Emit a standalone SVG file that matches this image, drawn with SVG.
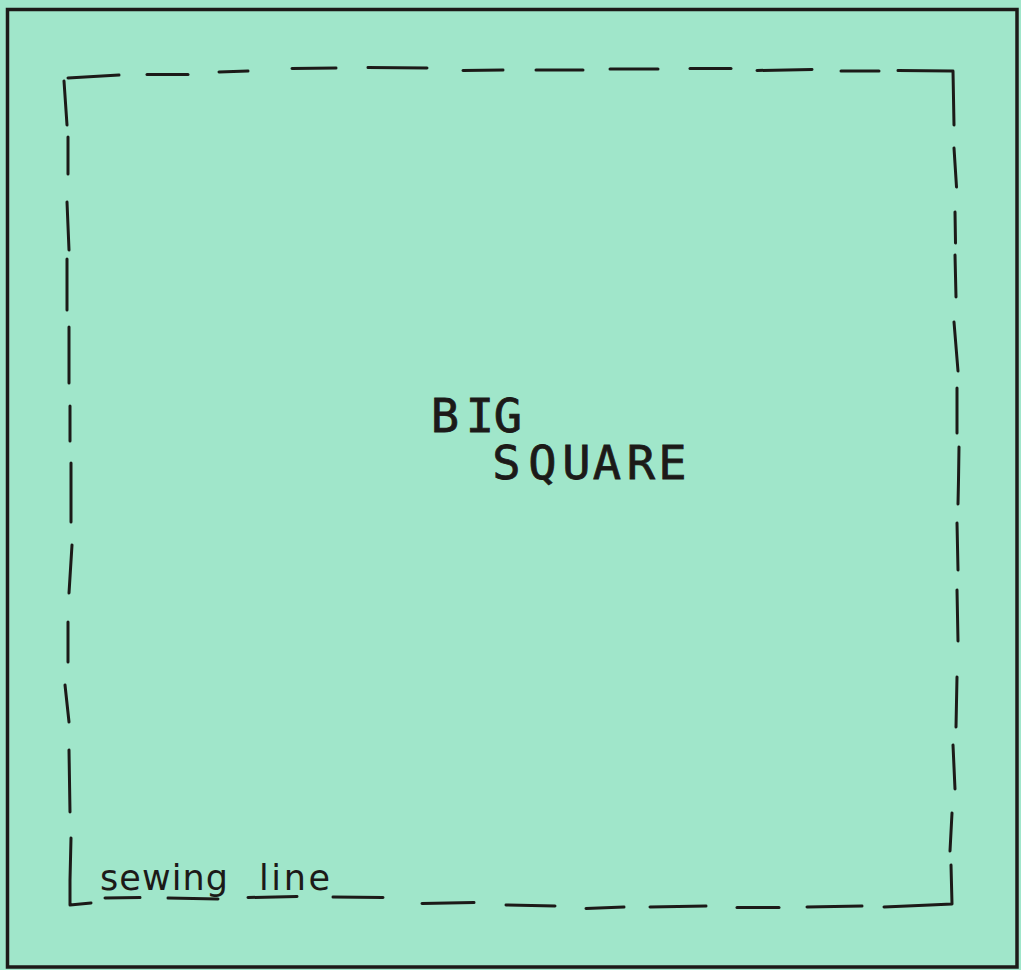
<svg xmlns="http://www.w3.org/2000/svg" width="1021" height="970" viewBox="0 0 1021 970">
<style>
.frame{fill:none;stroke:#1c1a18;stroke-width:3.5}
.dash{fill:none;stroke:#1c1a18;stroke-width:3;stroke-linecap:round;stroke-linejoin:round}
.big{font-family:"DejaVu Sans Mono","Liberation Mono",monospace;font-size:47px;fill:#1c1a18;stroke:#1c1a18;stroke-width:0.8;text-anchor:middle}
.hand{font-family:"DejaVu Sans","Liberation Sans",sans-serif;font-size:35px;fill:#1c1a18}
</style>
<rect x="0" y="0" width="1021" height="970" fill="#a0e6ca"/>
<g id="sheet">
<path class="frame" d="M7.5 9.5 H1017 V967 H7.5 Z"/>
</g>
<g id="connectors">
<!-- top edge -->
<path class="dash" d="M67 125 L64 81 M68 78 L119 75"/>
<path class="dash" d="M147 74.5 L188 74.5"/>
<path class="dash" d="M219 72 L248 71"/>
<path class="dash" d="M292 68.5 L336 68"/>
<path class="dash" d="M368 67.5 L427 68"/>
<path class="dash" d="M463 70.5 L503 70"/>
<path class="dash" d="M536 70 L583 70"/>
<path class="dash" d="M610 69 L658 69"/>
<path class="dash" d="M690 68.5 L731 68.5"/>
<path class="dash" d="M757 70.5 L812 69.5"/>
<path class="dash" d="M841 71 L879 71"/>
<path class="dash" d="M898 70.5 L952 71 L953 71 L954 125"/>
<!-- right edge -->
<path class="dash" d="M954 148 L956.5 187"/>
<path class="dash" d="M955 212 L955.5 243"/>
<path class="dash" d="M955 255 L956 297"/>
<path class="dash" d="M954 322 L958 371"/>
<path class="dash" d="M957 388 L957 433"/>
<path class="dash" d="M959 447 L958.5 480 L958 504"/>
<path class="dash" d="M957 523 L958 570"/>
<path class="dash" d="M957 590 L958 641"/>
<path class="dash" d="M957 677 L956 727"/>
<path class="dash" d="M953 745 L955 789"/>
<path class="dash" d="M952 813 L950 851"/>
<path class="dash" d="M951 865 L952 904 L930 905 L884 907"/>
<!-- bottom edge -->
<path class="dash" d="M807 907 L862 906"/>
<path class="dash" d="M737 907.5 L779 907.5"/>
<path class="dash" d="M650 907 L706 906"/>
<path class="dash" d="M586 908.5 L624 907"/>
<path class="dash" d="M506 905 L555 906"/>
<path class="dash" d="M422 903.5 L474 902.5"/>
<path class="dash" d="M333 897 L383 897.5"/>
<path class="dash" d="M248 897.5 L297 896.5"/>
<path class="dash" d="M168 898 L218 899"/>
<path class="dash" d="M105 898 L140 897.5"/>
<!-- left edge -->
<path class="dash" d="M71 838 L70 880 L70 905 L91 903"/>
<path class="dash" d="M69 750 L70 812"/>
<path class="dash" d="M65 685 L69 722"/>
<path class="dash" d="M68 622 L68 662"/>
<path class="dash" d="M72 545 L69 593"/>
<path class="dash" d="M71 463 L71 522"/>
<path class="dash" d="M70 406 L70 441"/>
<path class="dash" d="M69 327 L69 383"/>
<path class="dash" d="M67 259 L67 310"/>
<path class="dash" d="M67 202 L69 250"/>
<path class="dash" d="M68 137 L68 174"/>
</g>
<g id="label-big-square">
<text class="big" x="445 480 508" y="432">BIG</text>
<text class="big" x="506.5 542.5 576.5 607 641 672.5" y="479">SQUARE</text>
</g>
<g id="label-sewing-line">
<text class="hand" x="100" y="890" textLength="128" lengthAdjust="spacing">sewing</text>
<text class="hand" x="259" y="890" textLength="71" lengthAdjust="spacing">line</text>
</g>
</svg>
